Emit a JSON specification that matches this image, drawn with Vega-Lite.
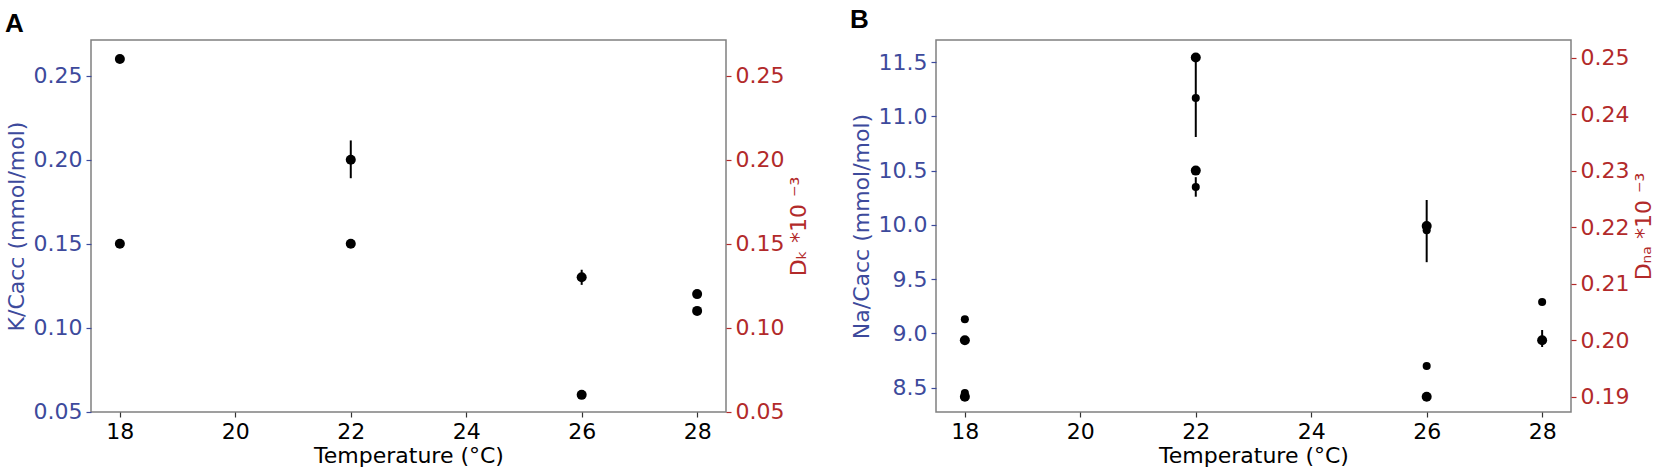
{
  "$schema": "https://vega.github.io/schema/vega-lite/v6.json",
  "padding": {"left": 4, "top": 6, "right": 2, "bottom": 0},
  "background": "white",
  "config": {
    "font": "DejaVu Sans",
    "view": {"stroke": "#808080", "strokeWidth": 1.5},
    "axis": {"labelFontSize": 22, "titleFontSize": 22, "titleFontWeight": "normal", "grid": false, "domain": false, "tickSize": 5, "tickWidth": 1.2, "labelPadding": 4, "titlePadding": 5},
    "axisX": {"titlePadding": 3},
    "title": {"fontSize": 26, "fontWeight": "bold", "anchor": "start", "font": "Liberation Sans", "color": "black", "offset": 3}
  },
  "datasets": {
    "A": [
      {"T": 18, "s": "L", "v": 0.26},
      {"T": 22, "s": "L", "v": 0.20, "lo": 0.189, "hi": 0.2115},
      {"T": 26, "s": "L", "v": 0.13, "lo": 0.1255, "hi": 0.1345},
      {"T": 28, "s": "L", "v": 0.12},
      {"T": 18, "s": "R", "v": 0.15},
      {"T": 22, "s": "R", "v": 0.15},
      {"T": 26, "s": "R", "v": 0.06},
      {"T": 28, "s": "R", "v": 0.11}
    ],
    "B": [
      {"T": 18, "s": "L", "v": 9.13},
      {"T": 18, "s": "L", "v": 8.45},
      {"T": 22, "s": "L", "v": 11.17, "lo": 10.81, "hi": 11.54},
      {"T": 22, "s": "L", "v": 10.35, "lo": 10.26, "hi": 10.44},
      {"T": 26, "s": "L", "v": 9.95},
      {"T": 26, "s": "L", "v": 8.70},
      {"T": 28, "s": "L", "v": 9.29},
      {"T": 18, "s": "R", "v": 0.200},
      {"T": 18, "s": "R", "v": 0.190},
      {"T": 22, "s": "R", "v": 0.250},
      {"T": 22, "s": "R", "v": 0.230},
      {"T": 26, "s": "R", "v": 0.2202, "lo": 0.2138, "hi": 0.2248},
      {"T": 26, "s": "R", "v": 0.190},
      {"T": 28, "s": "R", "v": 0.200, "lo": 0.1988, "hi": 0.2018}
    ]
  },
  "spacing": 38,
  "hconcat": [
    {
      "title": "A",
      "width": 635,
      "height": 372,
      "data": {"name": "A"},
      "encoding": {
        "x": {"field": "T", "type": "quantitative", "scale": {"domain": [17.5, 28.5], "nice": false, "zero": false},
              "axis": {"values": [18, 20, 22, 24, 26, 28], "title": "Temperature (°C)", "labelColor": "black", "titleColor": "black", "tickColor": "#333333"}}
      },
      "layer": [
        {
          "transform": [{"filter": "datum.s === 'L'"}],
          "encoding": {"y": {"field": "v", "type": "quantitative", "scale": {"domain": [0.0498, 0.2713], "nice": false, "zero": false},
               "axis": {"orient": "left", "values": [0.05, 0.10, 0.15, 0.20, 0.25], "format": ".2f", "title": "K/Cacc (mmol/mol)", "labelColor": "#3d4a9c", "titleColor": "#3d4a9c", "tickColor": "#3d4a9c"}}},
          "layer": [
            {"transform": [{"filter": "isValid(datum.lo)"}],
             "mark": {"type": "rule", "color": "black", "strokeWidth": 2},
             "encoding": {"y": {"field": "lo", "type": "quantitative", "scale": {"domain": [0.0498, 0.2713], "nice": false, "zero": false},
               "axis": {"orient": "left", "values": [0.05, 0.10, 0.15, 0.20, 0.25], "format": ".2f", "title": "K/Cacc (mmol/mol)", "labelColor": "#3d4a9c", "titleColor": "#3d4a9c", "tickColor": "#3d4a9c"}}, "y2": {"field": "hi"}}},
            {"mark": {"type": "circle", "color": "black", "opacity": 1, "size": 100}}
          ]
        },
        {
          "transform": [{"filter": "datum.s === 'R'"}],
          "layer": [
            {"mark": {"type": "circle", "color": "black", "opacity": 1, "size": 100},
             "encoding": {"y": {"field": "v", "type": "quantitative", "scale": {"domain": [0.0498, 0.2713], "nice": false, "zero": false},
               "axis": {"orient": "right", "values": [0.05, 0.10, 0.15, 0.20, 0.25], "format": ".2f", "title": "Dₖ *10 ⁻³", "titleAngle": 270, "titleBaseline": "top", "labelColor": "#b22a2a", "titleColor": "#b22a2a", "tickColor": "#b22a2a"}}}}
          ]
        }
      ],
      "resolve": {"scale": {"y": "independent"}}
    },
    {
      "title": {"text": "B", "dy": -4},
      "width": 635,
      "height": 372,
      "data": {"name": "B"},
      "encoding": {
        "x": {"field": "T", "type": "quantitative", "scale": {"domain": [17.5, 28.5], "nice": false, "zero": false},
              "axis": {"values": [18, 20, 22, 24, 26, 28], "title": "Temperature (°C)", "labelColor": "black", "titleColor": "black", "tickColor": "#333333"}}
      },
      "layer": [
        {
          "transform": [{"filter": "datum.s === 'L'"}],
          "encoding": {"y": {"field": "v", "type": "quantitative", "scale": {"domain": [8.276, 11.704], "nice": false, "zero": false},
               "axis": {"orient": "left", "values": [8.5, 9.0, 9.5, 10.0, 10.5, 11.0, 11.5], "format": ".1f", "title": "Na/Cacc (mmol/mol)", "labelColor": "#3d4a9c", "titleColor": "#3d4a9c", "tickColor": "#3d4a9c"}}},
          "layer": [
            {"transform": [{"filter": "isValid(datum.lo)"}],
             "mark": {"type": "rule", "color": "black", "strokeWidth": 2},
             "encoding": {"y": {"field": "lo", "type": "quantitative", "scale": {"domain": [8.276, 11.704], "nice": false, "zero": false},
               "axis": {"orient": "left", "values": [8.5, 9.0, 9.5, 10.0, 10.5, 11.0, 11.5], "format": ".1f", "title": "Na/Cacc (mmol/mol)", "labelColor": "#3d4a9c", "titleColor": "#3d4a9c", "tickColor": "#3d4a9c"}}, "y2": {"field": "hi"}}},
            {"mark": {"type": "circle", "color": "black", "opacity": 1, "size": 65}}
          ]
        },
        {
          "transform": [{"filter": "datum.s === 'R'"}],
          "encoding": {"y": {"field": "v", "type": "quantitative", "scale": {"domain": [0.1873, 0.2531], "nice": false, "zero": false},
               "axis": {"orient": "right", "values": [0.19, 0.20, 0.21, 0.22, 0.23, 0.24, 0.25], "format": ".2f", "title": "Dₙₐ *10 ⁻³", "titleAngle": 270, "titleBaseline": "top", "labelColor": "#b22a2a", "titleColor": "#b22a2a", "tickColor": "#b22a2a"}}},
          "layer": [
            {"transform": [{"filter": "isValid(datum.lo)"}],
             "mark": {"type": "rule", "color": "black", "strokeWidth": 2},
             "encoding": {"y": {"field": "lo", "type": "quantitative", "scale": {"domain": [0.1873, 0.2531], "nice": false, "zero": false},
               "axis": {"orient": "right", "values": [0.19, 0.20, 0.21, 0.22, 0.23, 0.24, 0.25], "format": ".2f", "title": "Dₙₐ *10 ⁻³", "titleAngle": 270, "titleBaseline": "top", "labelColor": "#b22a2a", "titleColor": "#b22a2a", "tickColor": "#b22a2a"}}, "y2": {"field": "hi"}}},
            {"mark": {"type": "circle", "color": "black", "opacity": 1, "size": 100}}
          ]
        }
      ],
      "resolve": {"scale": {"y": "independent"}}
    }
  ]
}
